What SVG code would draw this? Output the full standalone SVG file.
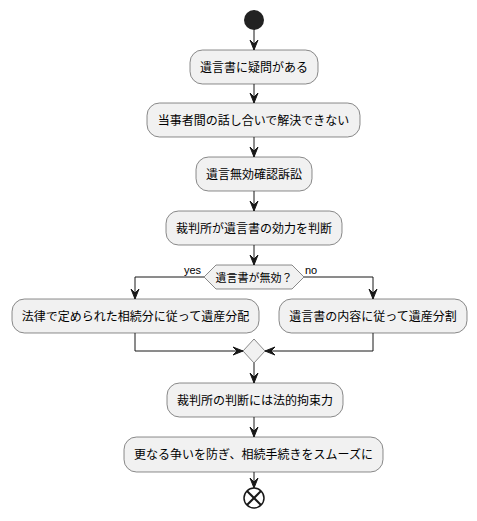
<svg xmlns="http://www.w3.org/2000/svg" width="477" height="521" viewBox="0 0 477 521">
<style>
.box{fill:#F1F1F1;stroke:#181818;stroke-width:0.5}
.t{font-family:"Liberation Sans","Noto Sans CJK JP",sans-serif;font-size:12px;fill:#000;text-anchor:middle}
.s{font-family:"Liberation Sans","Noto Sans CJK JP",sans-serif;font-size:11px;fill:#000}
.ln{fill:none;stroke:#181818;stroke-width:1}
.ah{fill:#181818;stroke:#181818;stroke-width:1}
</style>
<rect width="477" height="521" fill="#FFFFFF"/>
<g id="start"><circle cx="254" cy="20" r="10" fill="#222222"/></g>
<g id="n1"><rect class="box" x="190" y="50" width="128" height="34" rx="12.5"/><text class="t" x="254" y="71.5">遺言書に疑問がある</text></g>
<g id="n2"><rect class="box" x="147" y="103" width="213" height="34" rx="12.5"/><text class="t" x="253.5" y="124.5">当事者間の話し合いで解決できない</text></g>
<g id="n3"><rect class="box" x="196" y="157" width="116" height="34" rx="12.5"/><text class="t" x="254" y="178.5">遺言無効確認訴訟</text></g>
<g id="n4"><rect class="box" x="166" y="211" width="176" height="34" rx="12.5"/><text class="t" x="254" y="232.5">裁判所が遺言書の効力を判断</text></g>
<g id="d1"><polygon class="box" points="204,277 216,265 292,265 304,277 292,289 216,289"/><text class="s" x="254" y="282" text-anchor="middle">遺言書が無効？</text></g>
<g id="n5"><rect class="box" x="12" y="299" width="247" height="34" rx="12.5"/><text class="t" x="135.5" y="320.5">法律で定められた相続分に従って遺産分配</text></g>
<g id="n6"><rect class="box" x="279" y="299" width="188" height="34" rx="12.5"/><text class="t" x="373" y="320.5">遺言書の内容に従って遺産分割</text></g>
<g id="m1"><polygon class="box" points="243,351 254,339 265,351 254,363"/></g>
<g id="n7"><rect class="box" x="167" y="383" width="176" height="34" rx="12.5"/><text class="t" x="255" y="404.5">裁判所の判断には法的拘束力</text></g>
<g id="n8"><rect class="box" x="124" y="437" width="259" height="35" rx="12.5"/><text class="t" x="253.5" y="458.5">更なる争いを防ぎ、相続手続きをスムーズに</text></g>
<g id="end"><circle cx="254" cy="498" r="10" fill="#FFFFFF" stroke="#181818" stroke-width="1.5"/><line x1="247" y1="491" x2="261" y2="505" stroke="#181818" stroke-width="2"/><line x1="261" y1="491" x2="247" y2="505" stroke="#181818" stroke-width="2"/></g>
<g id="connectors">
<path class="ln" d="M254,30 V50"/><polygon class="ah" points="250,40 254,50 258,40 254,44"/>
<path class="ln" d="M254,84 V103"/><polygon class="ah" points="250,93 254,103 258,93 254,97"/>
<path class="ln" d="M254,137 V157"/><polygon class="ah" points="250,147 254,157 258,147 254,151"/>
<path class="ln" d="M254,191 V211"/><polygon class="ah" points="250,201 254,211 258,201 254,205"/>
<path class="ln" d="M254,245 V265"/><polygon class="ah" points="250,255 254,265 258,255 254,259"/>
<path class="ln" d="M204,277 H135 V299"/><polygon class="ah" points="131,289 135,299 139,289 135,293"/>
<text class="s" x="184" y="274">yes</text>
<path class="ln" d="M304,277 H373 V299"/><polygon class="ah" points="369,289 373,299 377,289 373,293"/>
<text class="s" x="305" y="274">no</text>
<path class="ln" d="M135,333 V351 H243"/><polygon class="ah" points="233,347 243,351 233,355 237,351"/>
<path class="ln" d="M373,333 V351 H265"/><polygon class="ah" points="275,347 265,351 275,355 271,351"/>
<path class="ln" d="M254,363 V383"/><polygon class="ah" points="250,373 254,383 258,373 254,377"/>
<path class="ln" d="M254,417 V437"/><polygon class="ah" points="250,427 254,437 258,427 254,431"/>
<path class="ln" d="M254,472 V488"/><polygon class="ah" points="250,478 254,488 258,478 254,482"/>
</g>
</svg>
